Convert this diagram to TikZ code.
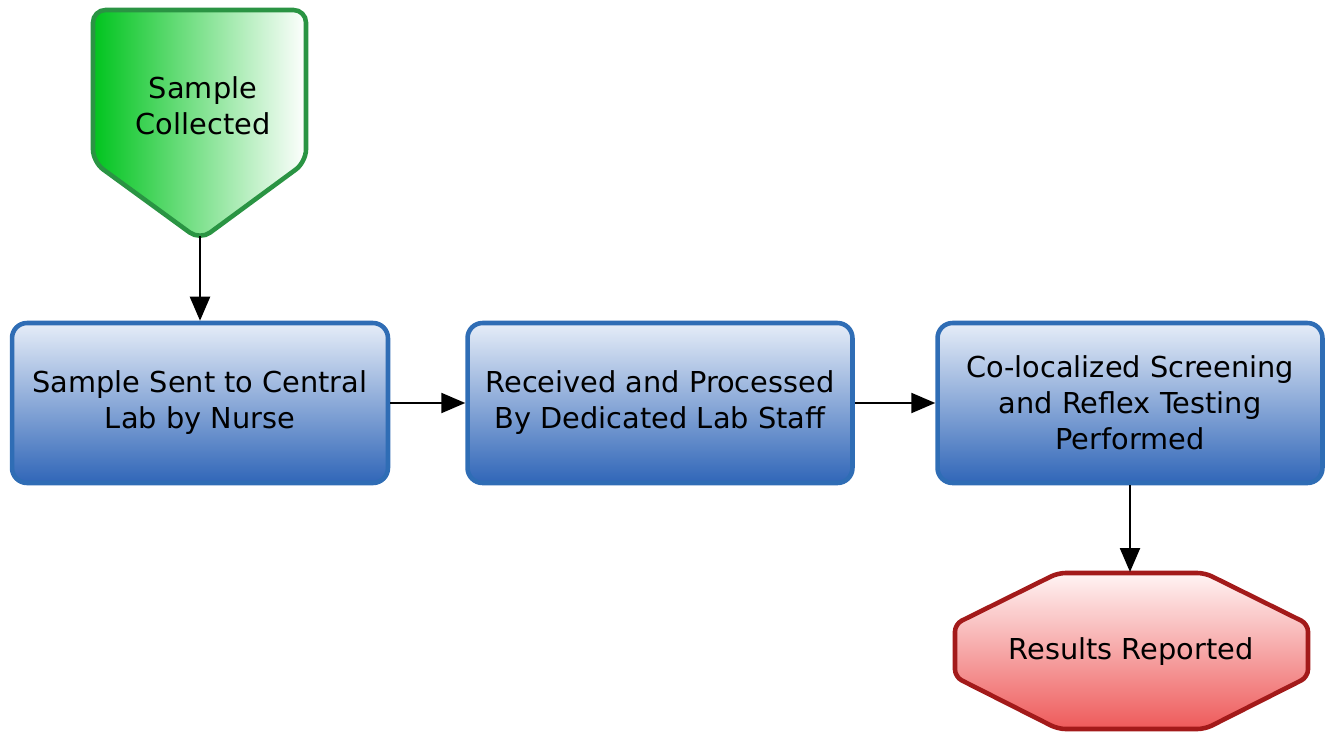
\documentclass[tikz,border=0pt]{standalone}
\usepackage{fontspec}
\setmainfont{DejaVu Sans}
\usetikzlibrary{positioning, arrows.meta, calc}

\definecolor{boxline}{HTML}{2F6DB5}
\definecolor{boxtop}{HTML}{E6EDF8}
\definecolor{boxbottom}{HTML}{3066B8}
\definecolor{startline}{HTML}{2A9443}
\definecolor{startleft}{HTML}{00C41E}
\definecolor{endline}{HTML}{A31A1A}
\definecolor{endtop}{HTML}{FFF4F4}
\definecolor{endbottom}{HTML}{EE5A5A}

\tikzset{
    steptext/.style={align=center, font=\fontsize{16.4}{20.5}\selectfont},
    stepbox/.style={steptext, draw=boxline, line width=2.6pt, rounded corners=0.3cm,
        top color=boxtop, bottom color=boxbottom, minimum height=3.2cm},
    flow/.style={line width=1.3pt, -{Triangle[length=0.48cm, width=0.4cm]}},
}

\begin{document}
\begin{tikzpicture}[x=0.02cm, y=-0.02cm]
    \useasboundingbox (0,0) rectangle (1336,737);

    % start shape
    \draw[startline, line width=2.6pt, rounded corners=0.25cm,
        left color=startleft, right color=white]
        (93,10) -- (306,10) -- (306,162) -- (200,240) -- (93,162) -- cycle;
    \node[steptext] (collected) at (203,106) {Sample\\Collected};
    \coordinate (collected tip) at (200,236);

    % process steps
    \node[stepbox, minimum width=7.52cm] (sent) at (200,403)
        {Sample Sent to Central\\Lab by Nurse};
    \node[stepbox, minimum width=7.7cm] (received) at (660,403)
        {Received and Processed\\By Dedicated Lab Staff};
    \node[stepbox, minimum width=7.7cm] (performed) at (1130,403)
        {Co-localized Screening\\and Reflex Testing\\Performed};

    % end shape
    \draw[endline, line width=2.6pt, rounded corners=0.15cm,
        top color=endtop, bottom color=endbottom]
        (1058,573) -- (1205,573) -- (1308,624) -- (1308,677)
        -- (1205,729) -- (1058,729) -- (955,677) -- (955,624) -- cycle;
    \node[steptext] (reported) at (1131,652) {Results Reported};
    \coordinate (reported top) at (1130,572);

    % connectors
    \draw[flow] (collected tip) -- (sent.north);
    \foreach \a/\b in {sent/received, received/performed}
    {
        \draw[flow] (\a) -- (\b);
    }
    \draw[flow] (performed.south) -- (reported top);
\end{tikzpicture}
\end{document}
